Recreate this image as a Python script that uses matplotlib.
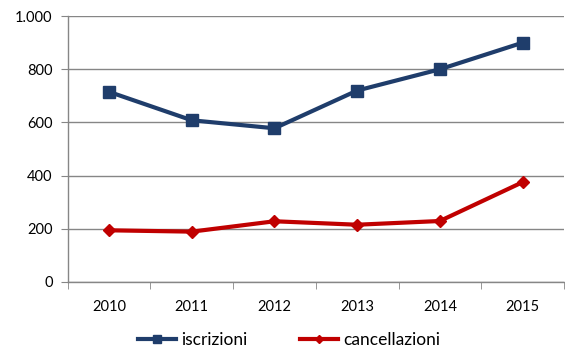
import matplotlib
matplotlib.use("Agg")
import matplotlib.pyplot as plt
from matplotlib.ticker import FuncFormatter, FixedLocator

anni = ["2010", "2011", "2012", "2013", "2014", "2015"]
iscrizioni = [715, 608, 578, 720, 800, 900]
cancellazioni = [194, 189, 228, 215, 229, 375]

plt.rcParams['font.family'] = ['Lato', 'DejaVu Sans']

fig = plt.figure(figsize=(5.65, 3.51), dpi=100)
ax = fig.add_axes([0.120, 0.197, 0.878, 0.757])

x = list(range(len(anni)))
ax.plot(x, iscrizioni, color='#1f3d6b', lw=3, marker='s', ms=8,
        label='iscrizioni', zorder=3)
ax.plot(x, cancellazioni, color='#c00000', lw=3, marker='D', ms=6,
        label='cancellazioni', zorder=3)

ax.set_xlim(-0.5, len(anni) - 0.5)
ax.set_ylim(0, 1000)
ax.set_yticks(range(0, 1001, 200))
ax.yaxis.set_major_formatter(FuncFormatter(lambda v, p: f"{int(v):,}".replace(",", ".")))
ax.grid(axis='y', color='#868686', lw=1)
ax.set_axisbelow(True)

# anni al centro, tacche tra le categorie
ax.set_xticks(x)
ax.set_xticklabels(anni)
ax.tick_params(axis='x', which='major', length=0, pad=13)
ax.xaxis.set_minor_locator(FixedLocator([i - 0.5 for i in range(len(anni) + 1)]))
ax.tick_params(axis='x', which='minor', length=5, color='#868686')
ax.tick_params(axis='y', length=5, color='#868686', pad=6)
ax.tick_params(labelsize=10.5, labelcolor='black')

for s in ['top', 'right']:
    ax.spines[s].set_visible(False)
for s in ['left', 'bottom']:
    ax.spines[s].set_color('#868686')
    ax.spines[s].set_linewidth(1)

fig.legend(loc='center', bbox_to_anchor=(0.512, 0.031), ncol=2, frameon=False,
           fontsize=12.5, handlelength=2.2, columnspacing=3.0, handletextpad=0.3,
           markerscale=0.75)

fig.savefig("out.png", dpi=100)
